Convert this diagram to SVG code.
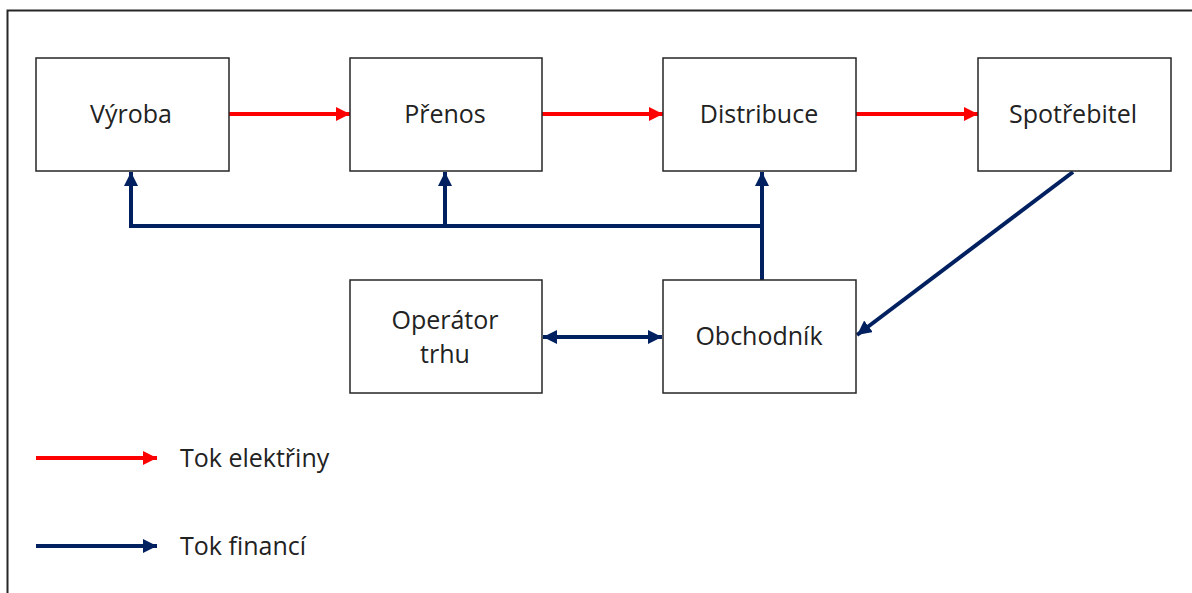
<svg xmlns="http://www.w3.org/2000/svg" width="1192" height="593" viewBox="0 0 1192 593">
  <defs>
    <marker id="headRed" viewBox="0 0 10 10" refX="10" refY="5" markerWidth="3.6" markerHeight="3.6" orient="auto" markerUnits="strokeWidth">
      <path d="M0,0 L10,5 L0,10 Z" fill="#ff0000"/>
    </marker>
    <marker id="headBlue" viewBox="0 0 10 10" refX="10" refY="5" markerWidth="3.6" markerHeight="3.6" orient="auto" markerUnits="strokeWidth">
      <path d="M0,0 L10,5 L0,10 Z" fill="#002060"/>
    </marker>
    <marker id="tailBlue" viewBox="0 0 10 10" refX="0" refY="5" markerWidth="3.6" markerHeight="3.6" orient="auto" markerUnits="strokeWidth">
      <path d="M10,0 L0,5 L10,10 Z" fill="#002060"/>
    </marker>
  </defs>
  <style>
    .box { fill: #ffffff; stroke: #262626; stroke-width: 1.5; }
    .label { font-family: "Open Sans", "Liberation Sans", sans-serif; font-size: 25px; fill: #222222; text-anchor: middle; dominant-baseline: central; }
    .legend { font-family: "Open Sans", "Liberation Sans", sans-serif; font-size: 25px; fill: #222222; dominant-baseline: central; }
    .power { stroke: #ff0000; stroke-width: 4; fill: none; }
    .money { stroke: #002060; stroke-width: 4; fill: none; }
  </style>

  <rect width="1192" height="593" fill="#ffffff"/>
  <!-- outer frame -->
  <path d="M7.5,593 L7.5,10.5 L1192,10.5" fill="none" stroke="#262626" stroke-width="2"/>

  <g id="connectors">
    <line class="power" x1="229" y1="114" x2="350" y2="114" marker-end="url(#headRed)"/>
    <line class="power" x1="542" y1="114" x2="663" y2="114" marker-end="url(#headRed)"/>
    <line class="power" x1="856" y1="114" x2="978" y2="114" marker-end="url(#headRed)"/>
    <polyline class="money" points="762,226 131,226 131,172" marker-end="url(#headBlue)"/>
    <line class="money" x1="445" y1="226" x2="445" y2="172" marker-end="url(#headBlue)"/>
    <line class="money" x1="762" y1="280" x2="762" y2="172" marker-end="url(#headBlue)"/>
    <line class="money" x1="1073" y1="172" x2="857" y2="335" marker-end="url(#headBlue)"/>
    <line class="money" x1="543" y1="337" x2="662" y2="337" marker-start="url(#tailBlue)" marker-end="url(#headBlue)"/>
  </g>

  <g id="vyroba">
    <rect class="box" x="36" y="58" width="193" height="113"/>
    <text class="label" x="131" y="113">Výroba</text>
  </g>
  <g id="prenos">
    <rect class="box" x="350" y="58" width="192" height="113"/>
    <text class="label" x="445" y="113">Přenos</text>
  </g>
  <g id="distribuce">
    <rect class="box" x="663" y="58" width="193" height="113"/>
    <text class="label" x="759" y="113">Distribuce</text>
  </g>
  <g id="spotrebitel">
    <rect class="box" x="978" y="58" width="193" height="113"/>
    <text class="label" x="1073" y="113">Spotřebitel</text>
  </g>
  <g id="operator-trhu">
    <rect class="box" x="350" y="280" width="192" height="113"/>
    <text class="label" x="445" y="319">Operátor</text>
    <text class="label" x="445" y="353">trhu</text>
  </g>
  <g id="obchodnik">
    <rect class="box" x="663" y="280" width="193" height="113"/>
    <text class="label" x="759" y="335">Obchodník</text>
  </g>

  <g id="legend">
    <line class="power" x1="36" y1="458" x2="157" y2="458" marker-end="url(#headRed)"/>
    <text class="legend" x="180" y="457">Tok elektřiny</text>
    <line class="money" x1="36" y1="546" x2="157" y2="546" marker-end="url(#headBlue)"/>
    <text class="legend" x="180" y="545">Tok financí</text>
  </g>
</svg>
